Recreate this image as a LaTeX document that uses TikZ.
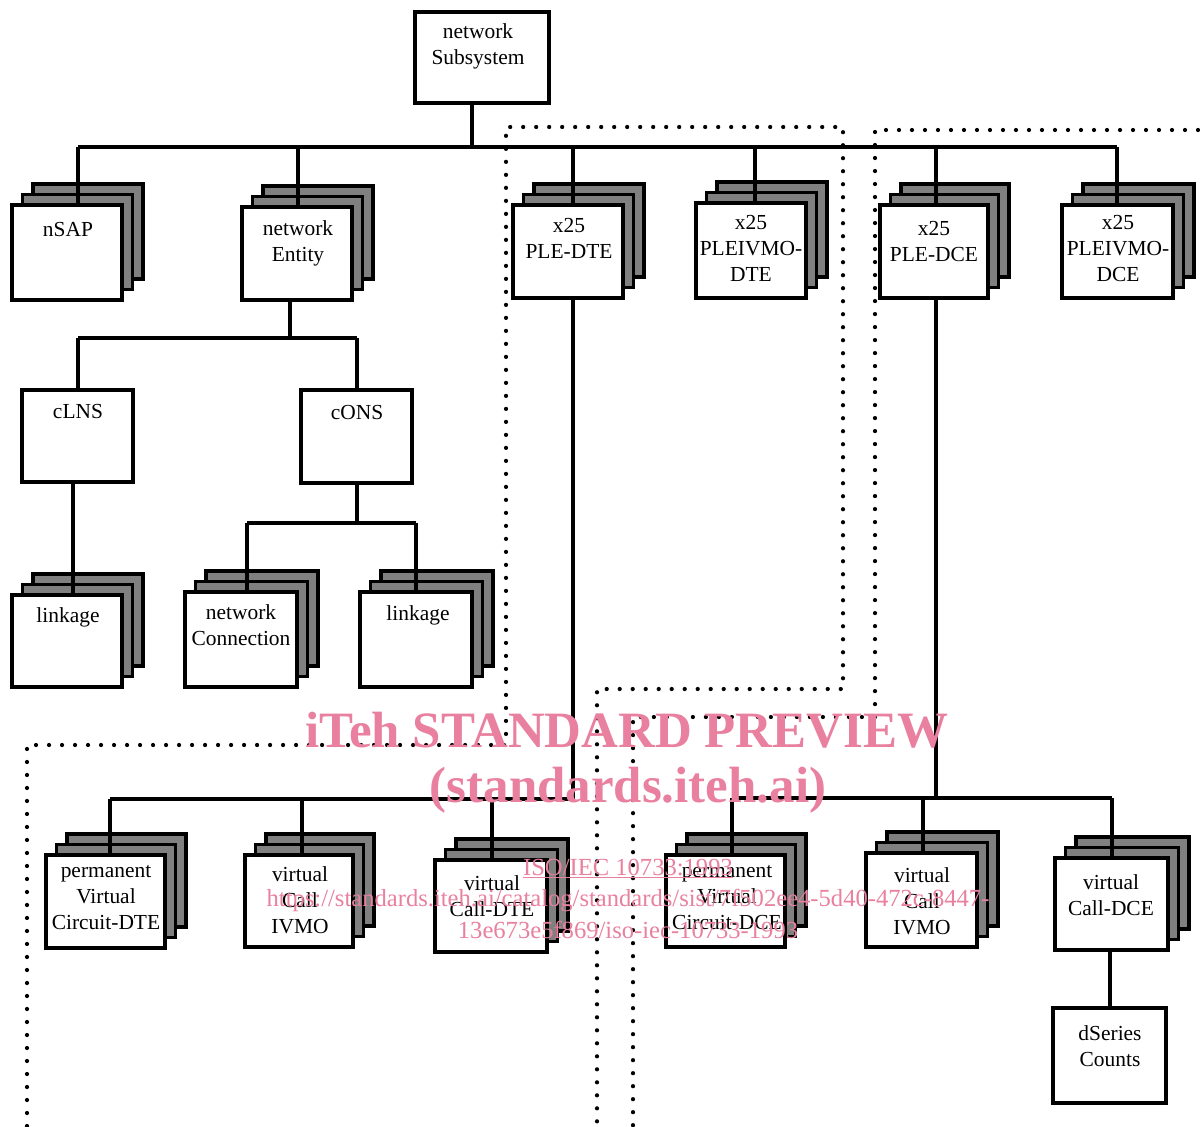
\documentclass[tikz,border=0pt]{standalone}
\usepackage{fontspec}
\setmainfont{Liberation Serif}
\usetikzlibrary{fit}
\definecolor{wmpink}{HTML}{E9809F}
\tikzset{
  conn/.style={line width=2.7pt},
  boxs/.style={draw, line width=2pt, fill=white, inner sep=0pt},
  layer/.style={draw, line width=2pt, fill=black!50},
  lbl/.style={align=center, font=\fontsize{12.2}{14.7}\selectfont, inner sep=0pt},
  dotline/.style={line width=2.4pt, line cap=round, dash pattern=on 0pt off 7.4pt},
  wmbig/.style={text=wmpink, font=\fontsize{29}{30}\selectfont\bfseries, inner sep=0pt},
  wmsmall/.style={text=wmpink, font=\fontsize{14}{15}\selectfont, inner sep=0pt}
}
\newcommand{\plainbox}[5]{%
  \node[boxs, fit={(#2,#3) (#4,#5)}] (#1) {};}
\newcommand{\stackedbox}[5]{%
  \draw[layer] (#2+21,#3-21) rectangle (#4+21,#5-21);
  \draw[layer] (#2+10.5,#3-10.5) rectangle (#4+10.5,#5-10.5);
  \node[boxs, fit={(#2,#3) (#4,#5)}] (#1) {};}
\begin{document}
\begin{tikzpicture}[x=0.02cm, y=-0.02cm]
\useasboundingbox (0,0) rectangle (1200,1126);

% dotted regions
\draw[dotline] (27,1126) -- (27,745) -- (506,745) -- (506,127) -- (843,127) -- (843,689) -- (597,689) -- (597,1126);
\draw[dotline] (1198,130) -- (875,130) -- (875,717) -- (633,717) -- (633,1126);

% boxes
\plainbox{ns}{415}{12}{549}{103}
\stackedbox{nsap}{12}{205}{122}{300}
\stackedbox{nent}{242}{207}{352}{300}
\stackedbox{pledte}{513}{205}{623}{298}
\stackedbox{pivdte}{696}{203}{806}{298}
\stackedbox{pledce}{880}{205}{988}{298}
\stackedbox{pivdce}{1062}{205}{1173}{298}
\plainbox{clns}{22}{390}{133}{482}
\plainbox{cons}{301}{390}{412}{483}
\stackedbox{linka}{12}{595}{122}{687}
\stackedbox{ncon}{185}{592}{297}{687}
\stackedbox{linkb}{360}{592}{472}{687}
\stackedbox{pvcdte}{46}{855}{165}{948}
\stackedbox{vcivdte}{245}{855}{353}{947}
\stackedbox{vcdte}{435}{860}{547}{952}
\stackedbox{pvcdce}{666}{855}{785}{947}
\stackedbox{vcivdce}{866}{853}{977}{947}
\stackedbox{vcdce}{1055}{858}{1168}{950}
\plainbox{dser}{1053}{1008}{1166}{1103}

% labels
\node[lbl] (ns-t) at (478,46) {network\\Subsystem};
\node[lbl] (nsap-t) at (68,230) {nSAP};
\node[lbl] (nent-t) at (298,243.5) {network\\Entity};
\node[lbl] (pledte-t) at (569,238.5) {x25\\PLE-DTE};
\node[lbl] (pivdte-t) at (751,248.5) {x25\\PLEIVMO-\\DTE};
\node[lbl] (pledce-t) at (934,241.5) {x25\\PLE-DCE};
\node[lbl] (pivdce-t) at (1118,248.5) {x25\\PLEIVMO-\\DCE};
\node[lbl] (clns-t) at (78,412) {cLNS};
\node[lbl] (cons-t) at (357,413) {cONS};
\node[lbl] (linka-t) at (68,617) {linkage};
\node[lbl] (ncon-t) at (241,625.5) {network\\Connection};
\node[lbl] (linkb-t) at (418,615) {linkage};
\node[lbl] (pvcdte-t) at (106,897.5) {permanent\\Virtual\\Circuit-DTE};
\node[lbl] (vcivdte-t) at (300,900) {virtual\\Call\\IVMO};
\node[lbl] (vcdte-t) at (492,896.5) {virtual\\Call-DTE};
\node[lbl] (pvcdce-t) at (727,897.5) {permanent\\Virtual\\Circuit-DCE};
\node[lbl] (vcivdce-t) at (922,901) {virtual\\Call\\IVMO};
\node[lbl] (vcdce-t) at (1111,895) {virtual\\Call-DCE};
\node[lbl] (dser-t) at (1110,1046) {dSeries\\Counts};

% bus junctions
\coordinate (t0) at (472,147);
\coordinate (t1) at (78,147);
\coordinate (t2) at (298,147);
\coordinate (t3) at (573,147);
\coordinate (t4) at (755,147);
\coordinate (t5) at (936,147);
\coordinate (t6) at (1117,147);
\coordinate (e0) at (290,338);
\coordinate (e1) at (78,338);
\coordinate (e2) at (357,338);
\coordinate (c1) at (73,540);
\coordinate (o0) at (357,523);
\coordinate (o1) at (247,523);
\coordinate (o2) at (416,523);
\coordinate (d0) at (573,799);
\coordinate (d1) at (110,799);
\coordinate (d2) at (302,799);
\coordinate (d3) at (492,799);
\coordinate (k0) at (936,798);
\coordinate (k1) at (732,798);
\coordinate (k2) at (923,798);
\coordinate (k3) at (1112,798);
\coordinate (ds) at (1110,980);

% connectors
\draw[conn] (ns.south -| t0) -- (t0);
\draw[conn] (t1) -- (t6);
\draw[conn] (nsap.north -| t1) -- (t1);
\draw[conn] (nent.north -| t2) -- (t2);
\draw[conn] (pledte.north -| t3) -- (t3);
\draw[conn] (pivdte.north -| t4) -- (t4);
\draw[conn] (pledce.north -| t5) -- (t5);
\draw[conn] (pivdce.north -| t6) -- (t6);

\draw[conn] (nent.south -| e0) -- (e0);
\draw[conn] (e1) -- (e2);
\draw[conn] (clns.north -| e1) -- (e1);
\draw[conn] (cons.north -| e2) -- (e2);

\draw[conn] (clns.south -| c1) -- (linka.north -| c1);

\draw[conn] (cons.south -| o0) -- (o0);
\draw[conn] (o1) -- (o2);
\draw[conn] (ncon.north -| o1) -- (o1);
\draw[conn] (linkb.north -| o2) -- (o2);

\draw[conn] (pledte.south -| d0) -- (d0) -- (d1);
\draw[conn] (pvcdte.north -| d1) -- (d1);
\draw[conn] (vcivdte.north -| d2) -- (d2);
\draw[conn] (vcdte.north -| d3) -- (d3);

\draw[conn] (pledce.south -| k0) -- (k0);
\draw[conn] (k1) -- (k3);
\draw[conn] (pvcdce.north -| k1) -- (k1);
\draw[conn] (vcivdce.north -| k2) -- (k2);
\draw[conn] (vcdce.north -| k3) -- (k3);

\draw[conn] (vcdce.south -| ds) -- (dser.north -| ds);

% watermark
\node[wmbig] (wm1) at (627,730) {iTeh STANDARD PREVIEW};
\node[wmbig] (wm2) at (628,790) {(standards.iteh.ai)};
\node[wmsmall] (wm3) at (628,867) {ISO/IEC 10733:1993};
\draw[wmpink, line width=0.6pt] ([yshift=-1.5pt]wm3.base west) -- ([yshift=-1.5pt]wm3.base east);
\node[wmsmall] (wm4) at (628,900) {https://standards.iteh.ai/catalog/standards/sist/7f502ee4-5d40-472c-8447-};
\node[wmsmall] (wm5) at (628,930) {13e673e5f869/iso-iec-10733-1993};
\end{tikzpicture}
\end{document}
